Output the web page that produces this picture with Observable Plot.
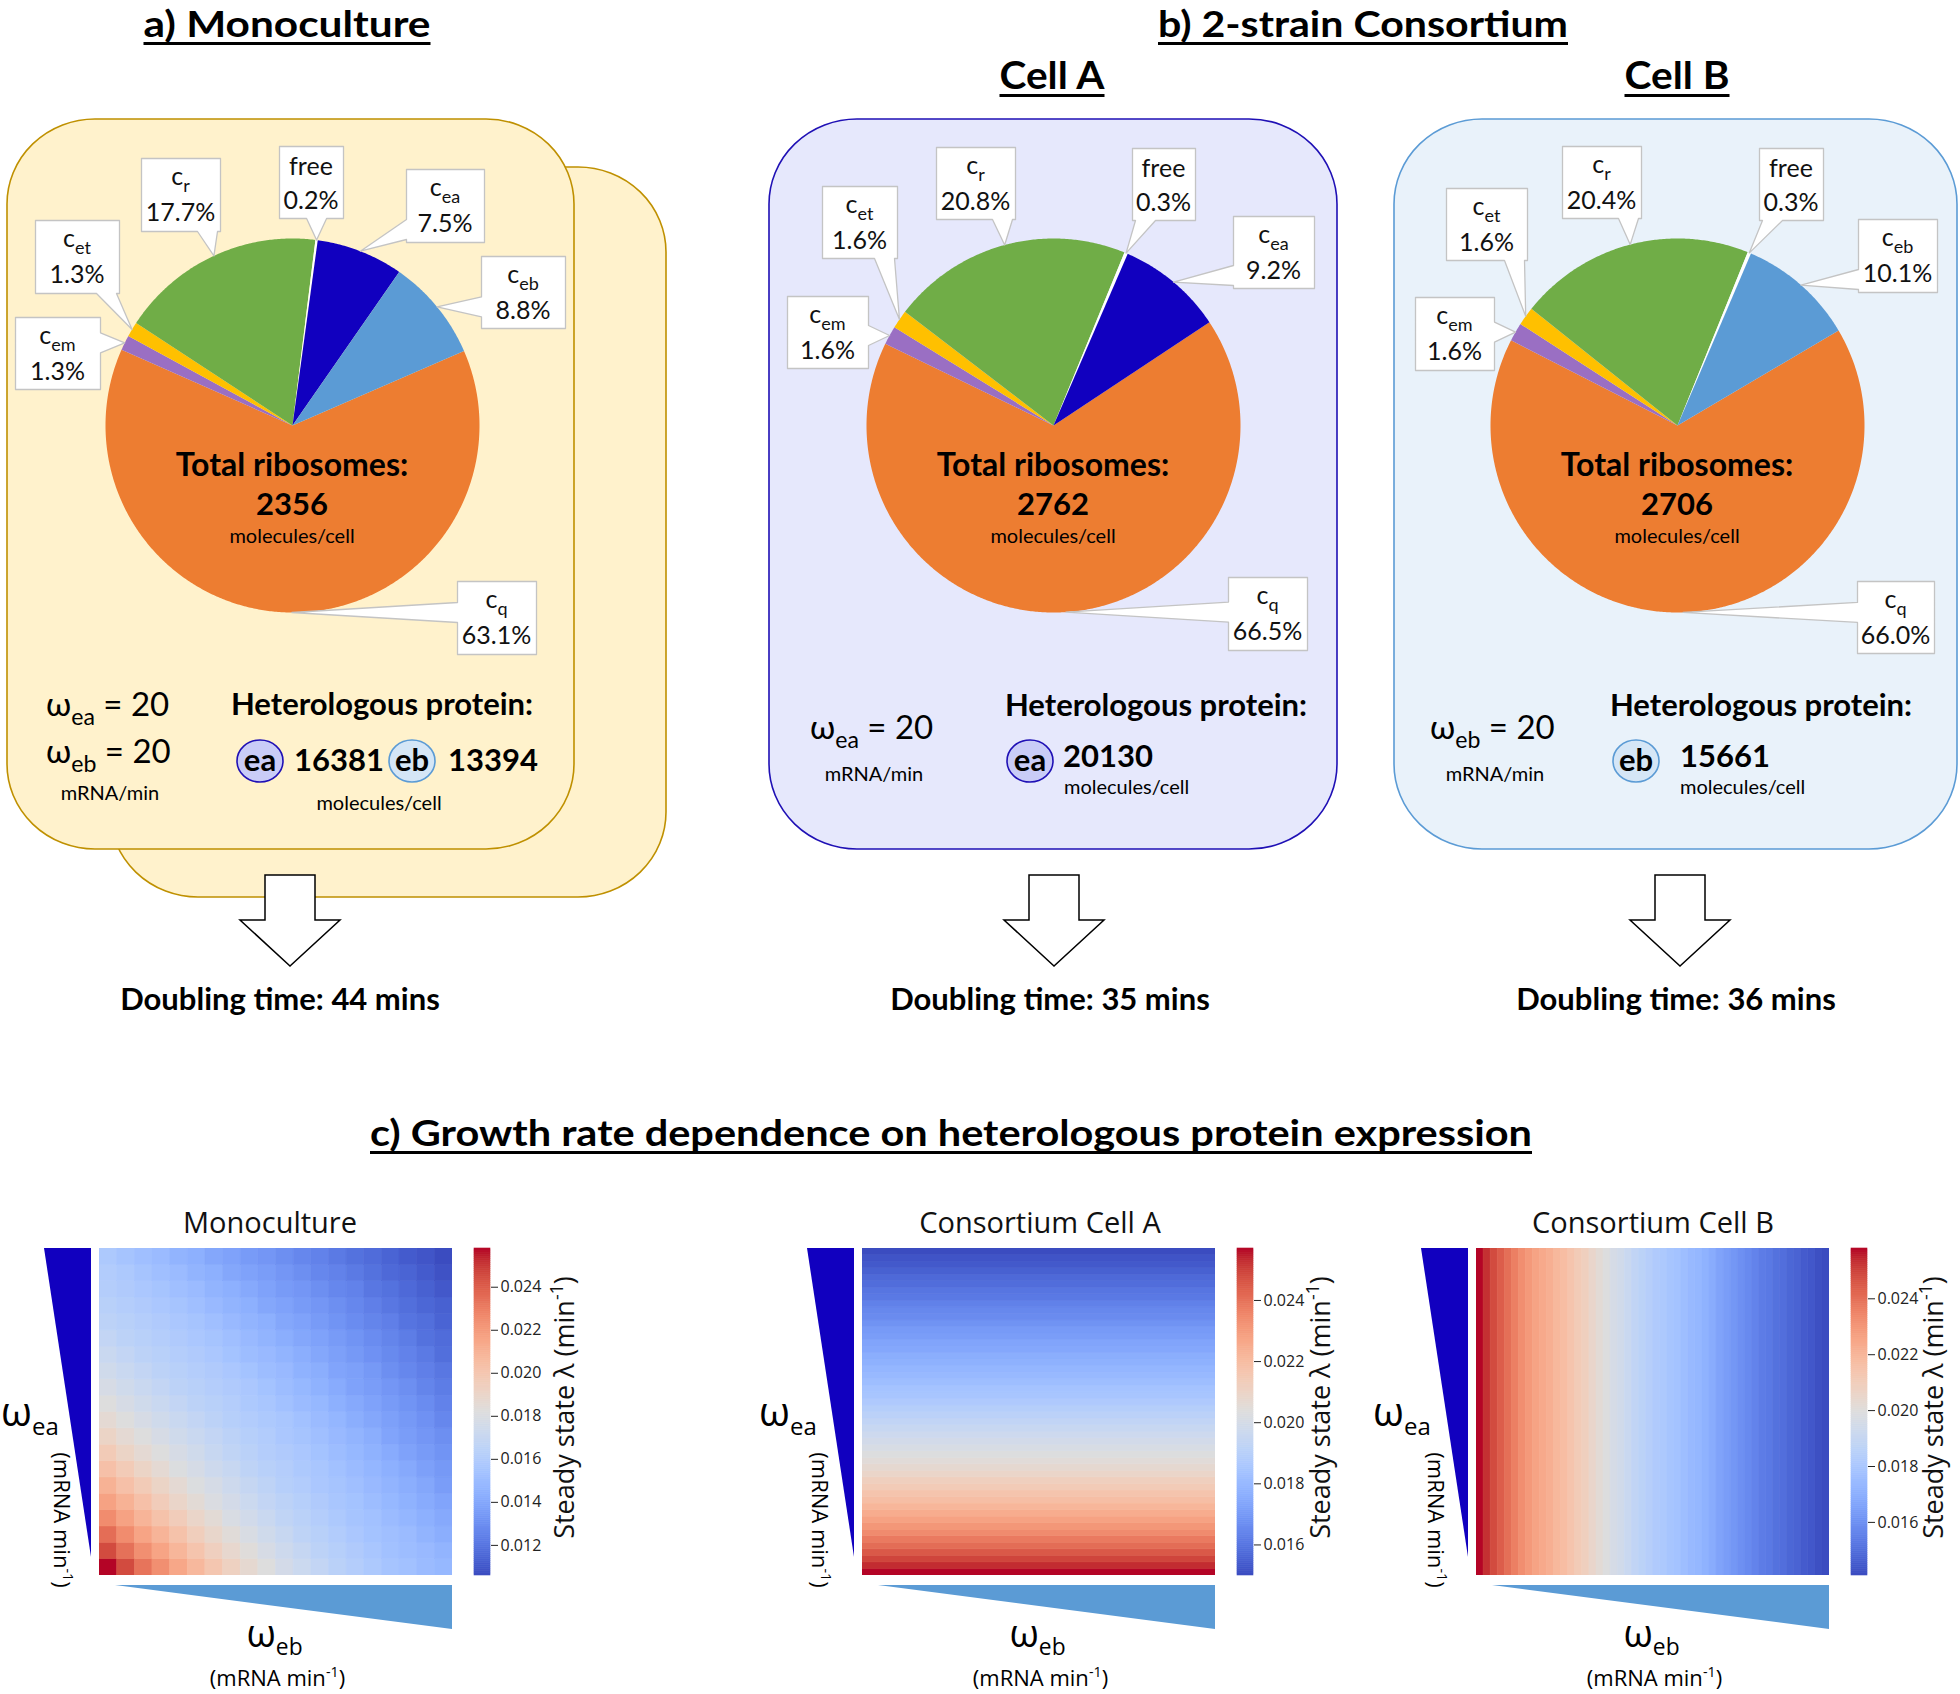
<!DOCTYPE html>
<html><head><meta charset="utf-8">
<script src="https://cdn.jsdelivr.net/npm/d3@7"></script>
<script src="https://cdn.jsdelivr.net/npm/@observablehq/plot@0.6"></script>
<style>
html,body{margin:0;padding:0;background:#fff;}
#page{position:relative;width:1960px;height:1694px;overflow:hidden;background:#fff;}
</style></head>
<body><div id="page"></div>
<script>
// ================= DATA =================
// Ribosome allocation (percent of total ribosomes), pie slice order (clockwise)
const monoKeys   = ["cq","cem","cet","cr","free","cea","ceb"];
const monoShares = [63.1, 1.3, 1.3, 17.7, 0.2, 7.5, 8.8];
const cellAKeys   = ["cq","cem","cet","cr","free","cea"];
const cellAShares = [66.5, 1.6, 1.6, 20.8, 0.3, 9.2];
const cellBKeys   = ["cq","cem","cet","cr","free","ceb"];
const cellBShares = [66.0, 1.6, 1.6, 20.4, 0.3, 10.1];
const totalRibosomes = [2356, 2762, 2706];          // mono, cell A, cell B (molecules/cell)
const doublingTimes  = [44, 35, 36];                // mins
const monoProtein    = [16381, 13394];              // ea, eb (molecules/cell)
const cellAProtein   = [20130];                     // ea
const cellBProtein   = [15661];                     // eb
const omegaSettings  = [20, 20];                    // ω_ea, ω_eb (mRNA/min)

// Steady-state growth rate λ, in 1e-3 min^-1
// Monoculture: rows = ω_ea (low -> high), columns = ω_eb (low -> high)
const monoLambda = [
 [25.8,24.5,23.3,22.4,21.5,20.7,20.0,19.3,18.7,18.2,17.6,17.2,16.8,16.4,16.1,15.8,15.5,15.3,15.0,14.8],
 [24.5,23.4,22.4,21.6,20.8,20.1,19.4,18.8,18.3,17.8,17.3,16.9,16.5,16.2,15.9,15.6,15.3,15.1,14.9,14.6],
 [23.5,22.5,21.6,20.9,20.2,19.5,18.9,18.4,17.9,17.4,17.0,16.6,16.3,16.0,15.7,15.4,15.2,15.0,14.6,14.3],
 [22.5,21.7,20.9,20.2,19.6,19.0,18.5,17.9,17.5,17.1,16.7,16.4,16.1,15.8,15.5,15.3,15.0,14.7,14.4,14.1],
 [21.7,21.0,20.3,19.6,19.0,18.5,18.0,17.6,17.2,16.8,16.5,16.2,15.9,15.6,15.4,15.1,14.8,14.5,14.2,13.9],
 [21.0,20.3,19.7,19.1,18.6,18.1,17.7,17.3,16.9,16.6,16.2,16.0,15.7,15.5,15.2,14.9,14.6,14.3,14.0,13.6],
 [20.3,19.7,19.1,18.6,18.1,17.7,17.3,17.0,16.6,16.3,16.1,15.8,15.6,15.3,15.0,14.7,14.4,14.1,13.7,13.4],
 [19.7,19.1,18.6,18.2,17.8,17.4,17.0,16.7,16.4,16.1,15.9,15.7,15.4,15.1,14.8,14.5,14.2,13.8,13.5,13.2],
 [19.1,18.6,18.2,17.8,17.4,17.1,16.8,16.5,16.2,16.0,15.7,15.5,15.2,14.9,14.6,14.3,13.9,13.6,13.3,13.0],
 [18.6,18.2,17.8,17.4,17.1,16.8,16.5,16.2,16.0,15.8,15.6,15.3,15.0,14.7,14.3,14.0,13.7,13.4,13.1,12.7],
 [18.2,17.8,17.4,17.1,16.8,16.5,16.3,16.1,15.8,15.6,15.3,15.0,14.8,14.4,14.1,13.8,13.5,13.2,12.9,12.5],
 [17.8,17.4,17.1,16.8,16.5,16.3,16.1,15.9,15.7,15.4,15.1,14.8,14.5,14.2,13.8,13.6,13.3,13.0,12.6,12.3],
 [17.4,17.1,16.8,16.5,16.3,16.1,15.9,15.7,15.4,15.1,14.9,14.5,14.3,13.9,13.7,13.4,13.0,12.7,12.4,12.1],
 [17.1,16.8,16.5,16.3,16.1,15.9,15.7,15.4,15.1,14.9,14.6,14.3,14.0,13.7,13.4,13.1,12.8,12.5,12.2,11.8],
 [16.8,16.5,16.3,16.1,15.9,15.7,15.5,15.2,14.9,14.6,14.3,14.0,13.8,13.5,13.2,12.9,12.6,12.3,11.9,11.7],
 [16.5,16.3,16.1,15.9,15.7,15.5,15.2,14.9,14.6,14.4,14.0,13.8,13.5,13.2,12.9,12.6,12.4,12.0,11.8,11.4],
 [16.3,16.1,15.9,15.7,15.5,15.2,14.9,14.6,14.4,14.0,13.8,13.5,13.3,13.0,12.7,12.4,12.1,11.8,11.5,11.3],
 [16.1,15.9,15.7,15.5,15.2,15.0,14.6,14.4,14.1,13.8,13.5,13.3,13.0,12.7,12.5,12.1,11.9,11.6,11.3,11.0],
 [16.0,15.8,15.5,15.2,15.0,14.6,14.4,14.0,13.8,13.6,13.3,13.0,12.7,12.5,12.2,11.9,11.6,11.4,11.1,10.8],
 [15.8,15.5,15.2,15.0,14.6,14.4,14.0,13.8,13.5,13.3,13.0,12.7,12.5,12.2,11.9,11.7,11.4,11.1,10.9,10.6]
];
// Consortium cell A: depends on ω_ea only (low -> high)
const cellALambda = [25.7,25.3,24.9,24.5,24.1,23.8,23.4,23.1,22.8,22.5,22.2,21.9,21.7,21.4,21.2,20.9,20.7,20.5,20.3,20.1,19.9,19.7,19.5,19.3,19.1,18.9,18.7,18.5,18.4,18.2,18.0,17.9,17.7,17.6,17.4,17.3,17.1,17.0,16.8,16.6,16.5,16.3,16.1,16.0,15.8,15.7,15.5,15.3,15.2,15.0];
// Consortium cell B: depends on ω_eb only (low -> high)
const cellBLambda = [25.8,25.3,24.8,24.4,24.0,23.6,23.2,22.9,22.6,22.4,22.2,21.9,21.7,21.4,21.1,20.9,20.5,20.2,19.9,19.6,19.4,19.1,18.8,18.6,18.4,18.2,18.1,17.9,17.8,17.6,17.4,17.3,17.1,16.9,16.6,16.4,16.2,16.0,15.8,15.6,15.4,15.3,15.1,15.0,14.8,14.7,14.5,14.4,14.2,14.1];

// ================= STYLE =================
const sliceColors = {cq:"#ED7D31", cem:"#9A6FC3", cet:"#FFC000", cr:"#70AD47", free:"#FFFFFF", cea:"#1100BF", ceb:"#5B9BD5"};
const sliceLabel = {cq:["c","q"], cem:["c","em"], cet:["c","et"], cr:["c","r"], free:["free",""], cea:["c","ea"], ceb:["c","eb"]};
const coolwarm = ["#3b4cc0","#445acc","#4d68d7","#5775e1","#6282ea","#6c8ef1","#779af7","#82a5fb","#8db0fe","#98b9ff","#a3c2ff","#aec9fd","#b8d0f9","#c2d5f4","#ccd9ee","#d5dbe6","#dddddd","#e5d8d1","#ecd3c5","#f1ccb9","#f5c4ad","#f7bba0","#f7b194","#f7a687","#f49a7b","#f18d6f","#ec7f63","#e57058","#de604d","#d55042","#cb3e38","#c0282f","#b40426"];
const coolwarmInterp = d3.piecewise(d3.interpolateRgb, coolwarm);
const FONT_TOP = "Lato, 'Open Sans', sans-serif";
const FONT_HM = "'Open Sans', sans-serif";

const page = document.getElementById("page");
const bg = d3.select(page).append("svg").attr("width",1960).attr("height",1694)
  .style("position","absolute").style("left","0px").style("top","0px");

function place(node, left, top, w, h) {
  const div = document.createElement("div");
  div.style.cssText = `position:absolute;left:${left}px;top:${top}px;width:${w}px;height:${h}px;`;
  node.style.maxWidth = "none";
  div.appendChild(node);
  page.appendChild(div);
}

// ---------- background decorations ----------
const boxes = [
  {x:110,y:167,w:556,h:730,fill:"#fff2cc",stroke:"#bf9000"},
  {x:7,y:119,w:567,h:730,fill:"#fff2cc",stroke:"#bf9000"},
  {x:769,y:119,w:568,h:730,fill:"#e6e8fc",stroke:"#1f10b5"},
  {x:1394,y:119,w:563,h:730,fill:"#e9f2fa",stroke:"#5b9bd5"}
];
boxes.forEach(b => bg.append("rect").attr("x",b.x).attr("y",b.y).attr("width",b.w).attr("height",b.h)
  .attr("rx",88).attr("ry",85).attr("fill",b.fill).attr("stroke",b.stroke).attr("stroke-width",1.6));

[290, 1054, 1680].forEach(cx => {
  const pts = [[cx-25,875],[cx+25,875],[cx+25,920],[cx+50,920],[cx,966],[cx-50,920],[cx-25,920]];
  bg.append("polygon").attr("points", pts.map(p=>p.join(",")).join(" "))
    .attr("fill","#fff").attr("stroke","#000").attr("stroke-width",1.5);
});

// ---------- pies ----------
const R = 187;
function pieSlices(keys, shares, start) {
  const total = d3.sum(shares);
  let a = start;
  return keys.map((k, i) => {
    const span = shares[i] / total * 360;
    const s = {key:k, share:shares[i], a0:a, a1:a+span};
    a += span; return s;
  });
}
function calloutPoly(b, t) {
  const [x0,y0,x1,y1] = b, w = 20;
  const cl = (v,a,c) => Math.max(a, Math.min(c, v));
  const dxL = x0 - t[0], dxR = t[0] - x1, dyT = y0 - t[1], dyB = t[1] - y1;
  const dx = Math.max(dxL, dxR), dy = Math.max(dyT, dyB);
  const side = dx > dy ? (dxL > dxR ? "left" : "right") : (dyT > dyB ? "top" : "bottom");
  const pts = [[x0,y0]];
  if (side === "top") { const c = cl(t[0], x0+w/2+3, x1-w/2-3); pts.push([c-w/2,y0], t, [c+w/2,y0]); }
  pts.push([x1,y0]);
  if (side === "right") { const c = cl(t[1], y0+w/2+3, y1-w/2-3); pts.push([x1,c-w/2], t, [x1,c+w/2]); }
  pts.push([x1,y1]);
  if (side === "bottom") { const c = cl(t[0], x0+w/2+3, x1-w/2-3); pts.push([c+w/2,y1], t, [c-w/2,y1]); }
  pts.push([x0,y1]);
  if (side === "left") { const c = cl(t[1], y0+w/2+3, y1-w/2-3); pts.push([x0,c+w/2], t, [x0,c-w/2]); }
  return pts;
}
const pies = [
  {keys:monoKeys, shares:monoShares, cx:292, cy:425, start:66.5,
   boxes:{cq:[457,581,536,654], cem:[15,317,100,389], cet:[35,220,119,293], cr:[141,158,220,231], free:[279,146,343,218], cea:[406,169,484,242], ceb:[481,256,565,328]}},
  {keys:cellAKeys, shares:cellAShares, cx:1053, cy:425, start:56.5,
   boxes:{cq:[1228,577,1307,650], cem:[787,296,868,368], cet:[822,186,897,258], cr:[936,147,1015,219], free:[1132,148,1195,220], cea:[1233,216,1314,288]}},
  {keys:cellBKeys, shares:cellBShares, cx:1677, cy:425, start:59.5,
   boxes:{cq:[1857,581,1934,653], cem:[1415,297,1494,370], cet:[1446,188,1527,260], cr:[1562,146,1641,218], free:[1759,148,1823,220], ceb:[1858,219,1937,292]}}
];
pies.forEach(p => {
  const slices = pieSlices(p.keys, p.shares, p.start);
  p.slices = slices;
  const toU = ([px,py]) => ({x:(px - p.cx)/R, y:-(py - p.cy)/R});
  const marks = [];
  slices.forEach(s => {
    const pts = [{x:0,y:0}];
    const n = Math.max(2, Math.ceil((s.a1 - s.a0) / 0.5));
    for (let k = 0; k <= n; k++) {
      const a = (s.a0 + (s.a1 - s.a0) * k / n) * Math.PI / 180;
      pts.push({x:Math.sin(a), y:Math.cos(a)});
    }
    marks.push(Plot.line(pts, {x:"x", y:"y", fill:sliceColors[s.key], stroke:"none", curve:"linear-closed"}));
  });
  slices.forEach(s => {
    const mid = (s.a0 + s.a1) / 2 * Math.PI / 180;
    const tip = [p.cx + R*Math.sin(mid), p.cy - R*Math.cos(mid)];
    const poly = calloutPoly(p.boxes[s.key], tip).map(toU);
    marks.push(Plot.line(poly, {x:"x", y:"y", fill:"#ffffff", stroke:"#c4c4c4", strokeWidth:1.3, curve:"linear-closed"}));
  });
  const svg = Plot.plot({width:580, height:540, margin:0,
    x:{domain:[-290/R, 290/R], axis:null}, y:{domain:[-250/R, 290/R], axis:null},
    style:{background:"transparent", overflow:"visible"}, marks});
  place(svg, p.cx - 290, p.cy - 290, 580, 540);
});

// ---------- heatmaps ----------
function drawHeat(cfg) {
  const lo = cfg.lo, hi = cfg.hi;
  const color = {type:"linear", domain:[lo, hi], interpolate:coolwarmInterp};
  const opts = {width:cfg.w, height:cfg.h, margin:0, color,
    style:{background:"transparent"}, marks:[cfg.mark]};
  if (cfg.nx) opts.x = {type:"band", domain:d3.range(cfg.nx), padding:0, round:false, axis:null};
  if (cfg.ny) opts.y = {type:"band", domain:d3.range(cfg.ny).reverse(), padding:0, round:false, axis:null};
  place(Plot.plot(opts), cfg.left, cfg.top, cfg.w, cfg.h);
  // colour bar
  const N = 160;
  const ramp = d3.range(N).map(k => ({a: lo + (hi-lo)*k/N, b: lo + (hi-lo)*(k+1)/N, m: lo + (hi-lo)*(k+0.5)/N}));
  const cb = Plot.plot({width:80, height:cfg.h, marginLeft:0, marginTop:0, marginBottom:0, marginRight:64,
    x:{domain:[0,1], axis:null},
    y:{domain:[lo, hi], axis:"right", ticks:6, tickFormat:".3f", tickSize:7, tickPadding:3, label:null},
    color, style:{background:"transparent", fontFamily:FONT_HM, fontSize:"16px", color:"#222", overflow:"visible"},
    marks:[Plot.rect(ramp, {x1:0, x2:1, y1:"a", y2:"b", fill:"m", stroke:"m", strokeWidth:0.6})]});
  place(cb, cfg.left + cfg.w + 22, cfg.top, 80, cfg.h);
}
const monoCells = monoLambda.flatMap((row, i) => row.map((v, j) => ({i, j, v: v/1000})));
const aCells = cellALambda.map((v, i) => ({i, v: v/1000}));
const bCells = cellBLambda.map((v, j) => ({j, v: v/1000}));
const heat = [
  {left:99, top:1248, w:353, h:327, nx:20, ny:20,
   lo:d3.min(monoCells, d=>d.v), hi:d3.max(monoCells, d=>d.v),
   mark:Plot.cell(monoCells, {x:"j", y:"i", fill:"v", stroke:"v", strokeWidth:0.6})},
  {left:862, top:1248, w:353, h:327, ny:50,
   lo:d3.min(aCells, d=>d.v), hi:d3.max(aCells, d=>d.v),
   mark:Plot.cell(aCells, {y:"i", fill:"v", stroke:"v", strokeWidth:0.6})},
  {left:1476, top:1248, w:353, h:327, nx:50,
   lo:d3.min(bCells, d=>d.v), hi:d3.max(bCells, d=>d.v),
   mark:Plot.cell(bCells, {x:"j", fill:"v", stroke:"v", strokeWidth:0.6})}
];
heat.forEach(drawHeat);

// triangles (ω axes indicators)
heat.forEach(h => {
  const L = h.left, T = h.top, B = h.top + h.h, Rr = h.left + h.w;
  bg.append("polygon").attr("points", [[L-55,T],[L-8,T],[L-8,B-18]].map(p=>p.join(",")).join(" ")).attr("fill","#1100BF");
  bg.append("polygon").attr("points", [[L+16,B+10],[Rr,B+10],[Rr,B+54]].map(p=>p.join(",")).join(" ")).attr("fill","#5B9BD5");
});

// ---------- foreground text ----------
const fg = d3.select(page).append("svg").attr("width",1960).attr("height",1694)
  .style("position","absolute").style("left","0px").style("top","0px");

function rich(x, y, segs, o = {}) {
  const size = o.size || 24;
  const t = fg.append("text").attr("x", x).attr("y", y)
    .attr("font-family", o.family || FONT_TOP).attr("font-size", size)
    .attr("font-weight", o.weight || 400).attr("text-anchor", o.anchor || "start")
    .attr("fill", o.fill || "#000").style("white-space", "pre");
  if (typeof segs === "string") segs = [{t:segs}];
  let shift = 0;
  segs.forEach(s => {
    if (s.t === "") return;
    const ts = t.append("tspan").text(s.t);
    const target = s.sub ? size * (o.subDy ?? 0.28) : s.sup ? -size * 0.4 : 0;
    if (target !== shift) { ts.attr("dy", target - shift); shift = target; }
    if (s.sub || s.sup) ts.attr("font-size", size * (o.subScale || 0.66));
  });
  if (o.len) t.attr("textLength", o.len).attr("lengthAdjust", "spacingAndGlyphs");
  if (o.rotate) t.attr("transform", `rotate(${o.rotate},${x},${y})`);
  return t;
}
function title(str, cx, y, size, len) {
  rich(cx, y, str, {size, weight:700, anchor:"middle", len});
  fg.append("rect").attr("x", cx - len/2).attr("y", y + 5).attr("width", len).attr("height", 3).attr("fill", "#000");
}
title("a) Monoculture", 287, 37, 37, 287);
title("b) 2-strain Consortium", 1363, 37, 37, 410);
title("Cell A", 1052, 89, 38, 105);
title("Cell B", 1677, 89, 38, 105);
title("c) Growth rate dependence on heterologous protein expression", 951, 1146, 37, 1162);

// pie texts
pies.forEach((p, idx) => {
  rich(p.cx, 476, "Total ribosomes:", {size:32, weight:700, anchor:"middle"});
  rich(p.cx, 515, String(totalRibosomes[idx]), {size:31, weight:700, anchor:"middle"});
  rich(p.cx, 543, "molecules/cell", {size:20, anchor:"middle"});
  p.slices.forEach(s => {
    const b = p.boxes[s.key];
    const mx = (b[0] + b[2]) / 2;
    const [main, sub] = sliceLabel[s.key];
    rich(mx, b[1] + (sub ? 27 : 29), [{t:main}, {t:sub, sub:true}], {size:25, anchor:"middle", fill:"#111", subScale:0.72});
    rich(mx, b[1] + 63, s.share.toFixed(1) + "%", {size:25, anchor:"middle", fill:"#111"});
  });
});

// bottom-of-box texts
function badge(cx, cy, label, fill, stroke) {
  fg.append("ellipse").attr("cx", cx).attr("cy", cy).attr("rx", 23).attr("ry", 21)
    .attr("fill", fill).attr("stroke", stroke).attr("stroke-width", 1.6);
  rich(cx, cy + 10, label, {size:31, weight:700, anchor:"middle"});
}
// monoculture
rich(46, 716, [{t:"ω"},{t:"ea",sub:true},{t:" = " + omegaSettings[0]}], {size:33, subScale:0.7});
rich(46, 763, [{t:"ω"},{t:"eb",sub:true},{t:" = " + omegaSettings[1]}], {size:33, subScale:0.7});
rich(110, 800, "mRNA/min", {size:20, anchor:"middle"});
rich(382, 715, "Heterologous protein:", {size:31, weight:700, anchor:"middle"});
badge(260, 761, "ea", "#c9ccf7", "#1f10b5");
rich(294, 771, String(monoProtein[0]), {size:31, weight:700});
badge(412, 761, "eb", "#d5e6f6", "#5b9bd5");
rich(448, 771, String(monoProtein[1]), {size:31, weight:700});
rich(379, 810, "molecules/cell", {size:20, anchor:"middle"});
// cell A
rich(810, 739, [{t:"ω"},{t:"ea",sub:true},{t:" = " + omegaSettings[0]}], {size:33, subScale:0.7});
rich(874, 781, "mRNA/min", {size:20, anchor:"middle"});
rich(1156, 716, "Heterologous protein:", {size:31, weight:700, anchor:"middle"});
badge(1030, 761, "ea", "#c9ccf7", "#1f10b5");
rich(1063, 767, String(cellAProtein[0]), {size:31, weight:700});
rich(1064, 794, "molecules/cell", {size:20});
// cell B
rich(1430, 739, [{t:"ω"},{t:"eb",sub:true},{t:" = " + omegaSettings[1]}], {size:33, subScale:0.7});
rich(1495, 781, "mRNA/min", {size:20, anchor:"middle"});
rich(1761, 716, "Heterologous protein:", {size:31, weight:700, anchor:"middle"});
badge(1636, 761, "eb", "#d5e6f6", "#5b9bd5");
rich(1680, 767, String(cellBProtein[0]), {size:31, weight:700});
rich(1680, 794, "molecules/cell", {size:20});
// doubling times
[[280,0],[1050,1],[1676,2]].forEach(([x,i]) =>
  rich(x, 1010, `Doubling time: ${doublingTimes[i]} mins`, {size:31, weight:700, anchor:"middle"}));

// heatmap labels
const hmTitles = ["Monoculture", "Consortium Cell A", "Consortium Cell B"];
const hmTitleX = [270, 1040, 1653];
const cbLabelX = [565, 1321, 1934];
const omegaEaX = [1, 759, 1373];
const vertLabelX = [62, 820, 1436];
heat.forEach((h, k) => {
  const cx = h.left + h.w/2;
  rich(hmTitleX[k], 1233, hmTitles[k], {size:29, family:FONT_HM, anchor:"middle", fill:"#111"});
  rich(cbLabelX[k] + 9, h.top + h.h/2 - 4, [{t:"Steady state λ (min"},{t:"-1",sup:true},{t:")"}],
       {size:27, family:FONT_HM, anchor:"middle", rotate:-90, fill:"#111"});
  rich(omegaEaX[k], 1426, [{t:"ω"},{t:"ea",sub:true}], {size:40, family:FONT_HM, subScale:0.6, subDy:0.22});
  rich(vertLabelX[k] - 8, 1520, [{t:"(mRNA min"},{t:"-1",sup:true},{t:")"}],
       {size:22, family:FONT_HM, anchor:"middle", rotate:90, subScale:0.65});
  rich(cx - 1, 1647, [{t:"ω"},{t:"eb",sub:true}], {size:38, family:FONT_HM, subScale:0.6, subDy:0.2, anchor:"middle"});
  rich(cx + 2, 1686, [{t:"(mRNA min"},{t:"-1",sup:true},{t:")"}], {size:22, family:FONT_HM, anchor:"middle", subScale:0.65});
});
</script></body></html>
